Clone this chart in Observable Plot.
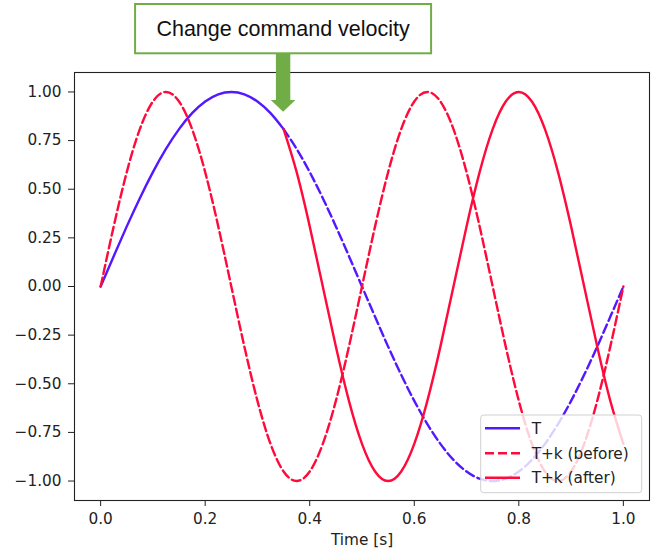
<!DOCTYPE html>
<html>
<head>
<meta charset="utf-8">
<script src="https://cdn.jsdelivr.net/npm/d3@7"></script>
<script src="https://cdn.jsdelivr.net/npm/@observablehq/plot@0.6"></script>
<style>
  html, body { margin: 0; padding: 0; background: #fff; }
  #chart svg { display: block; }
</style>
</head>
<body>
<div id="chart"></div>
<script>
// ---- data ----
const time = [0, 0.025, 0.05, 0.075, 0.1, 0.125, 0.15, 0.175, 0.2, 0.225, 0.25, 0.275, 0.3, 0.325, 0.35,
  0.375, 0.4, 0.425, 0.45, 0.475, 0.5, 0.525, 0.55, 0.575, 0.6, 0.625, 0.65, 0.675, 0.7, 0.725, 0.75,
  0.775, 0.8, 0.825, 0.85, 0.875, 0.9, 0.925, 0.95, 0.975, 1.0];
const seriesT = [0, 0.156, 0.309, 0.454, 0.588, 0.707, 0.809, 0.891, 0.951, 0.988, 1, 0.988, 0.951, 0.891, 0.809,
  0.707, 0.588, 0.454, 0.309, 0.156, 0, -0.156, -0.309, -0.454, -0.588, -0.707, -0.809, -0.891, -0.951, -0.988, -1,
  -0.988, -0.951, -0.891, -0.809, -0.707, -0.588, -0.454, -0.309, -0.156, 0];
const seriesBefore = [0, 0.309, 0.588, 0.809, 0.951, 1, 0.951, 0.809, 0.588, 0.309, 0, -0.309, -0.588, -0.809, -0.951,
  -1, -0.951, -0.809, -0.588, -0.309, 0, 0.309, 0.588, 0.809, 0.951, 1, 0.951, 0.809, 0.588, 0.309, 0,
  -0.309, -0.588, -0.809, -0.951, -1, -0.951, -0.809, -0.588, -0.309, 0];
const timeAfter = [0.35, 0.375, 0.4, 0.425, 0.45, 0.475, 0.5, 0.525, 0.55, 0.575, 0.6, 0.625, 0.65, 0.675, 0.7,
  0.725, 0.75, 0.775, 0.8, 0.825, 0.85, 0.875, 0.9, 0.925, 0.95, 0.975, 1.0];
const seriesAfter = [0.809, 0.588, 0.309, 0, -0.309, -0.588, -0.809, -0.951, -1, -0.951, -0.809, -0.588, -0.309, 0, 0.309,
  0.588, 0.809, 0.951, 1, 0.951, 0.809, 0.588, 0.309, 0, -0.309, -0.588, -0.809];
const changeTime = 0.35;
const xTicks = [0, 0.2, 0.4, 0.6, 0.8, 1.0];
const yTicks = [-1, -0.75, -0.5, -0.25, 0, 0.25, 0.5, 0.75, 1];
const legendLabels = ["T", "T+k (before)", "T+k (after)"];
const annotationText = "Change command velocity";
const xLabel = "Time [s]";

// ---- styling ----
const BLUE = "#5318ff";
const RED = "#ff0a3a";
const GREEN = "#70ad47";
const DASH = "9,4";
const LW = 2.4;
const FONT = "'DejaVu Sans', sans-serif";
const FS = 15.3;

const rowsT = time.map((t, i) => ({t, v: seriesT[i]}));
const rowsBefore = time.map((t, i) => ({t, v: seriesBefore[i]}));
const rowsAfter = timeAfter.map((t, i) => ({t, v: seriesAfter[i]}));
const tSolid = rowsT.filter(d => d.t <= changeTime);
const tDashed = rowsT.filter(d => d.t >= changeTime);

function annotationMark(index, scales, values, dims) {
  const cx = scales.x(changeTime);
  const top = dims.marginTop;
  const g = d3.create("svg:g");
  g.append("rect")
    .attr("x", cx - 148).attr("y", top - 68)
    .attr("width", 296).attr("height", 49.3)
    .attr("fill", "#fff").attr("stroke", GREEN).attr("stroke-width", 2);
  g.append("text")
    .attr("x", cx).attr("y", top - 43.5)
    .attr("dy", "0.35em")
    .attr("text-anchor", "middle")
    .attr("font-family", "'Liberation Sans', Arial, sans-serif")
    .attr("font-size", 21.5)
    .attr("fill", "#111")
    .text(annotationText);
  const y0 = top - 18, yh = top + 28, yt = top + 39.7, sw = 7.2, hw = 12.3;
  g.append("polygon")
    .attr("points", [[cx - sw, y0], [cx + sw, y0], [cx + sw, yh], [cx + hw, yh], [cx, yt], [cx - hw, yh], [cx - sw, yh]].map(p => p.join(",")).join(" "))
    .attr("fill", GREEN);
  return g.node();
}

function legendMark(index, scales, values, dims) {
  const R = dims.width - dims.marginRight;
  const B = dims.height - dims.marginBottom;
  const bx = R - 168.3, by = B - 85, bw = 161, bh = 77.7;
  const g = d3.create("svg:g");
  g.append("rect")
    .attr("x", bx).attr("y", by).attr("width", bw).attr("height", bh)
    .attr("rx", 3).attr("fill", "#fff").attr("fill-opacity", 0.8)
    .attr("stroke", "#d0d0d0").attr("stroke-width", 1);
  const items = [
    {label: legendLabels[0], color: BLUE, dash: null, dy: 13.3},
    {label: legendLabels[1], color: RED, dash: DASH, dy: 38.3},
    {label: legendLabels[2], color: RED, dash: null, dy: 62.7}
  ];
  for (const it of items) {
    const y = by + it.dy;
    const l = g.append("line")
      .attr("x1", bx + 4.3).attr("x2", bx + 39.3).attr("y1", y).attr("y2", y)
      .attr("stroke", it.color).attr("stroke-width", LW);
    if (it.dash) l.attr("stroke-dasharray", it.dash);
    g.append("text")
      .attr("x", bx + 51).attr("y", y).attr("dy", "0.35em")
      .attr("text-anchor", "start")
      .attr("font-family", FONT).attr("font-size", FS)
      .attr("fill", "#222").text(it.label);
  }
  return g.node();
}

const chart = Plot.plot({
  width: 660,
  height: 557,
  marginLeft: 74,
  marginRight: 11,
  marginTop: 72,
  marginBottom: 57,
  style: {fontFamily: FONT, fontSize: FS + "px", color: "#222", background: "#fff", overflow: "visible"},
  x: {domain: [-0.05, 1.05], ticks: xTicks, tickFormat: d3.format(".1f"), tickSize: 6, tickPadding: 7, label: null},
  y: {domain: [-1.1, 1.1], ticks: yTicks, tickFormat: d3.format(".2f"), tickSize: 6, tickPadding: 7, label: null},
  marks: [
    Plot.line(tSolid, {x: "t", y: "v", stroke: BLUE, strokeWidth: LW, curve: "natural"}),
    Plot.line(tDashed, {x: "t", y: "v", stroke: BLUE, strokeWidth: LW, strokeDasharray: DASH, curve: "natural"}),
    Plot.line(rowsBefore, {x: "t", y: "v", stroke: RED, strokeWidth: LW, strokeDasharray: DASH, curve: "natural"}),
    Plot.line(rowsAfter, {x: "t", y: "v", stroke: RED, strokeWidth: LW, curve: "natural"}),
    Plot.frame({stroke: "#222", strokeWidth: 1.1}),
    Plot.text([xLabel], {frameAnchor: "bottom", dy: 44, text: d => d, fontSize: FS, fill: "#222"}),
    legendMark,
    annotationMark
  ]
});
document.getElementById("chart").appendChild(chart);
</script>
</body>
</html>
